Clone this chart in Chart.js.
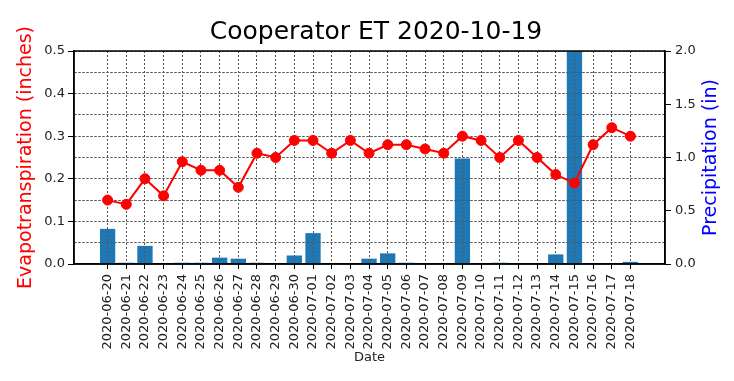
<!DOCTYPE html>
<html><head><meta charset="utf-8">
<script src="https://cdn.jsdelivr.net/npm/chart.js@4.4.0/dist/chart.umd.min.js"></script>
<style>html,body{margin:0;padding:0;background:#fff;}canvas{display:block;}</style>
</head><body>
<canvas id="c" width="734" height="381"></canvas>
<script>
const dates = ['2020-06-20','2020-06-21','2020-06-22','2020-06-23','2020-06-24','2020-06-25','2020-06-26','2020-06-27','2020-06-28','2020-06-29','2020-06-30','2020-07-01','2020-07-02','2020-07-03','2020-07-04','2020-07-05','2020-07-06','2020-07-07','2020-07-08','2020-07-09','2020-07-10','2020-07-11','2020-07-12','2020-07-13','2020-07-14','2020-07-15','2020-07-16','2020-07-17','2020-07-18'];
const etValues = [0.15,0.14,0.20,0.16,0.24,0.22,0.22,0.18,0.26,0.25,0.29,0.29,0.26,0.29,0.26,0.28,0.28,0.27,0.26,0.30,0.29,0.25,0.29,0.25,0.21,0.19,0.28,0.32,0.30];
const precipValues = [0.33,0.012,0.17,0,0.012,0.012,0.06,0.05,0.012,0,0.08,0.29,0,0,0.05,0.10,0.012,0,0,0.99,0,0.012,0,0,0.09,2.2,0,0,0.02];
const etGridValues = [0,0.05,0.1,0.15,0.2,0.25,0.3,0.35,0.4,0.45,0.5];
const etTickLabels = ['0.0','','0.1','','0.2','','0.3','','0.4','','0.5'];
const precipTickValues = [0,0.5,1,1.5,2];
const precipTickLabels = ['0.0','0.5','1.0','1.5','2.0'];

const FONT = '"DejaVu Sans", sans-serif';
const GRID = '#555';

const overlay = {
  id: 'overlay',
  afterDatasetDraw(chart, args) {
    if (args.index !== 0) return;
    const a = chart.chartArea;
    chart.scales.x.drawGrid(a);
    chart.scales.y.drawGrid(a);
  },
  afterDraw(chart) {
    const {ctx, chartArea: a} = chart;
    ctx.save();
    ctx.strokeStyle = '#000';
    ctx.lineWidth = 1.5;
    ctx.strokeRect(a.left, a.top, a.right - a.left, a.bottom - a.top);
    ctx.translate(711, (a.top + a.bottom) / 2);
    ctx.rotate(-Math.PI / 2);
    ctx.font = '19px ' + FONT;
    ctx.fillStyle = '#0000ff';
    ctx.textAlign = 'center';
    ctx.textBaseline = 'middle';
    ctx.fillText('Precipitation (in)', 0, 0);
    ctx.restore();
  }
};

new Chart(document.getElementById('c'), {
  data: {
    datasets: [
      {
        type: 'bar',
        label: 'Precipitation',
        data: precipValues.map((v, i) => ({x: i, y: v})),
        backgroundColor: '#1f77b4',
        borderWidth: 0,
        barPercentage: 0.82,
        categoryPercentage: 1.0,
        yAxisID: 'y2',
        order: 2
      },
      {
        type: 'line',
        label: 'ET',
        data: etValues.map((v, i) => ({x: i, y: v})),
        borderColor: '#ff0000',
        backgroundColor: '#ff0000',
        borderWidth: 2,
        pointRadius: 5,
        pointBorderWidth: 1,
        pointBackgroundColor: '#ff0000',
        pointBorderColor: '#ff0000',
        yAxisID: 'y',
        order: 1
      }
    ]
  },
  options: {
    responsive: false,
    animation: false,
    devicePixelRatio: 1,
    layout: {padding: {left: 18, right: 0, top: 0, bottom: 0}},
    plugins: {
      legend: {display: false},
      tooltip: {enabled: false},
      title: {
        display: true,
        text: 'Cooperator ET 2020-10-19',
        color: '#000',
        font: {family: FONT, size: 25, weight: 'normal'},
        padding: {top: 17, bottom: 4}
      }
    },
    scales: {
      x: {
        type: 'linear',
        offset: false,
        min: -1.8,
        max: 29.85,
        afterBuildTicks: s => { s.ticks = dates.map((_, i) => ({value: i})); },
        afterFit: s => { s.height = 117; },
        ticks: {
          autoSkip: false,
          minRotation: 90,
          maxRotation: 90,
          padding: 5,
          color: '#222',
          font: {family: FONT, size: 13},
          callback: v => dates[v] !== undefined ? dates[v] : ''
        },
        grid: {offset: false, color: GRID, lineWidth: 1, tickLength: 5, tickColor: '#000', tickWidth: 1},
        border: {display: true, color: '#000', width: 1.5, dash: [2, 2]},
        title: {display: true, text: 'Date', color: '#222', font: {family: FONT, size: 13}, padding: {top: 0, bottom: 16}}
      },
      y: {
        type: 'linear',
        position: 'left',
        min: 0,
        max: 0.5,
        afterBuildTicks: s => { s.ticks = etGridValues.map(v => ({value: v})); },
        afterFit: s => { s.width = 56; },
        ticks: {
          color: '#222',
          padding: 3,
          font: {family: FONT, size: 13},
          callback: (v, i) => etTickLabels[i]
        },
        grid: {
          color: GRID, lineWidth: 1, tickLength: 6, tickWidth: 1,
          tickColor: ctx => (ctx.index % 2 === 0 ? '#000' : 'rgba(0,0,0,0)')
        },
        border: {display: true, color: '#000', width: 1.5, dash: [2, 2]},
        title: {display: true, text: 'Evapotranspiration (inches)', color: '#ff0000', font: {family: FONT, size: 19}, padding: {top: -3, bottom: 0}}
      },
      y2: {
        type: 'linear',
        position: 'right',
        min: 0,
        max: 2,
        afterBuildTicks: s => { s.ticks = precipTickValues.map(v => ({value: v})); },
        afterFit: s => { s.width = 69; },
        ticks: {
          color: '#222',
          padding: 4,
          font: {family: FONT, size: 13},
          callback: (v, i) => precipTickLabels[i]
        },
        grid: {drawOnChartArea: false, tickLength: 6, tickColor: '#000', tickWidth: 1},
        border: {display: true, color: '#000', width: 1.5},
        title: {display: false}
      }
    }
  },
  plugins: [overlay]
});
</script>
</body></html>
